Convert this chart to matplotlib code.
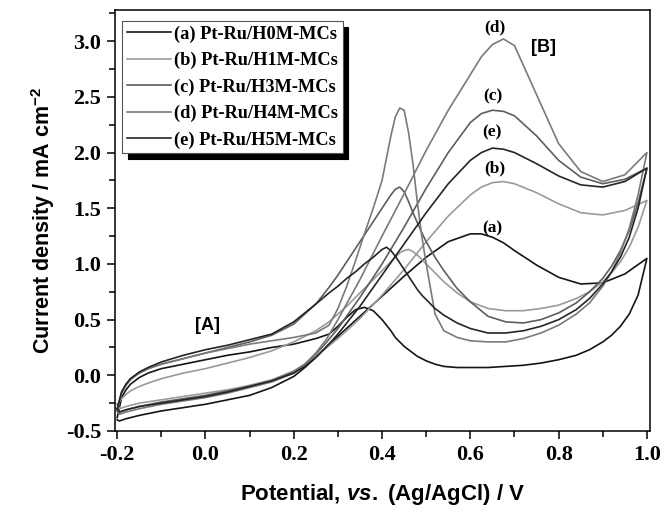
import matplotlib
matplotlib.use("Agg")
import matplotlib.pyplot as plt
from matplotlib.ticker import MultipleLocator, FormatStrFormatter

plt.rcParams['mathtext.fontset'] = 'custom'
plt.rcParams['mathtext.rm'] = 'Liberation Sans:bold'
plt.rcParams['mathtext.it'] = 'Liberation Sans:bold:italic'
plt.rcParams['mathtext.bf'] = 'Liberation Sans:bold'

# potencial do varrimento directo e inverso (V)
pot_fwd = [-0.2, -0.195, -0.18, -0.15, -0.1, -0.05, 0.0, 0.05, 0.1, 0.15, 0.2, 0.225, 0.25,
           0.275, 0.3, 0.35, 0.4, 0.45, 0.5, 0.55, 0.6, 0.625, 0.65, 0.675, 0.7, 0.75, 0.8,
           0.85, 0.9, 0.95, 1.0]
pot_rev = [1.0, 0.98, 0.96, 0.94, 0.92, 0.9, 0.87, 0.84, 0.8, 0.76, 0.72, 0.68, 0.64, 0.6,
           0.57, 0.54, 0.52, 0.5, 0.49, 0.48, 0.47, 0.46, 0.45, 0.44, 0.43, 0.42, 0.41, 0.4,
           0.38, 0.36, 0.34, 0.32, 0.3, 0.28, 0.25, 0.2, 0.15, 0.1, 0.05, 0.0, -0.05, -0.1,
           -0.13, -0.15, -0.17, -0.18, -0.19, -0.2]

# densidade de corrente (mA cm-2)
a_fwd = [-0.40, -0.41, -0.39, -0.36, -0.32, -0.29, -0.26, -0.22, -0.18, -0.11, -0.01, 0.07,
         0.16, 0.26, 0.35, 0.53, 0.71, 0.89, 1.06, 1.2, 1.27, 1.27, 1.24, 1.19, 1.12, 0.99,
         0.88, 0.82, 0.83, 0.91, 1.05]
a_rev = [1.05, 0.72, 0.55, 0.44, 0.36, 0.3, 0.23, 0.18, 0.14, 0.11, 0.09, 0.08, 0.07, 0.07,
         0.07, 0.08, 0.1, 0.13, 0.15, 0.17, 0.2, 0.23, 0.26, 0.3, 0.34, 0.4, 0.45, 0.5, 0.58,
         0.61, 0.59, 0.52, 0.44, 0.37, 0.33, 0.28, 0.25, 0.21, 0.18, 0.14, 0.1, 0.06, 0.02,
         -0.02, -0.08, -0.13, -0.2, -0.38]

b_fwd = [-0.26, -0.30, -0.28, -0.25, -0.22, -0.19, -0.16, -0.13, -0.09, -0.04, 0.04, 0.1,
         0.17, 0.25, 0.33, 0.51, 0.72, 0.95, 1.2, 1.43, 1.62, 1.69, 1.73, 1.74, 1.72, 1.64,
         1.54, 1.46, 1.44, 1.48, 1.57]
b_rev = [1.57, 1.33, 1.15, 1.02, 0.92, 0.84, 0.75, 0.69, 0.63, 0.6, 0.58, 0.58, 0.6, 0.66,
         0.74, 0.84, 0.92, 1.0, 1.04, 1.08, 1.11, 1.13, 1.12, 1.1, 1.06, 1.02, 0.98, 0.94,
         0.86, 0.78, 0.7, 0.62, 0.55, 0.48, 0.4, 0.3, 0.22, 0.16, 0.11, 0.06, 0.02, -0.03,
         -0.07, -0.1, -0.14, -0.17, -0.21, -0.26]

c_fwd = [-0.30, -0.33, -0.31, -0.28, -0.24, -0.21, -0.18, -0.14, -0.1, -0.05, 0.03, 0.1,
         0.19, 0.3, 0.42, 0.7, 1.0, 1.33, 1.68, 2.0, 2.27, 2.35, 2.38, 2.37, 2.33, 2.15, 1.93,
         1.78, 1.72, 1.76, 1.86]
c_rev = [1.86, 1.55, 1.3, 1.12, 0.98, 0.87, 0.75, 0.65, 0.56, 0.5, 0.47, 0.48, 0.53, 0.66,
         0.78, 0.94, 1.06, 1.2, 1.28, 1.37, 1.46, 1.56, 1.65, 1.69, 1.67, 1.62, 1.56, 1.5,
         1.38, 1.26, 1.14, 1.02, 0.9, 0.79, 0.64, 0.46, 0.36, 0.3, 0.25, 0.2, 0.15, 0.1, 0.06,
         0.02, -0.03, -0.08, -0.15, -0.3]

d_fwd = [-0.32, -0.35, -0.33, -0.3, -0.26, -0.23, -0.2, -0.16, -0.11, -0.06, 0.02, 0.1, 0.2,
         0.33, 0.5, 0.86, 1.25, 1.63, 2.02, 2.38, 2.7, 2.86, 2.97, 3.02, 2.96, 2.52, 2.08, 1.83,
         1.74, 1.8, 2.0]
d_rev = [2.0, 1.62, 1.32, 1.1, 0.93, 0.8, 0.65, 0.55, 0.45, 0.38, 0.33, 0.3, 0.3, 0.31, 0.34,
         0.4, 0.55, 1.0, 1.25, 1.55, 1.9, 2.18, 2.38, 2.4, 2.32, 2.15, 1.95, 1.75, 1.5, 1.27,
         1.03, 0.8, 0.6, 0.45, 0.38, 0.34, 0.31, 0.28, 0.24, 0.2, 0.15, 0.1, 0.06, 0.02, -0.04,
         -0.09, -0.16, -0.32]

e_fwd = [-0.30, -0.33, -0.31, -0.28, -0.25, -0.22, -0.19, -0.15, -0.1, -0.05, 0.02, 0.08,
         0.16, 0.26, 0.37, 0.62, 0.9, 1.18, 1.46, 1.72, 1.93, 2.0, 2.04, 2.03, 2.0, 1.9, 1.79,
         1.71, 1.69, 1.74, 1.86]
e_rev = [1.86, 1.5, 1.24, 1.06, 0.93, 0.82, 0.69, 0.59, 0.5, 0.44, 0.4, 0.38, 0.38, 0.42,
         0.47, 0.54, 0.6, 0.68, 0.72, 0.77, 0.83, 0.89, 0.95, 1.01, 1.07, 1.12, 1.15, 1.13,
         1.06, 1.0, 0.93, 0.87, 0.8, 0.74, 0.64, 0.48, 0.37, 0.32, 0.27, 0.23, 0.18, 0.12,
         0.07, 0.03, -0.03, -0.08, -0.15, -0.3]

nomes = ["(a) Pt-Ru/H0M-MCs", "(b) Pt-Ru/H1M-MCs", "(c) Pt-Ru/H3M-MCs",
         "(d) Pt-Ru/H4M-MCs", "(e) Pt-Ru/H5M-MCs"]
cores = ["#151515", "#9a9a9a", "#5e5e5e", "#7a7a7a", "#252525"]
curvas = [(a_fwd, a_rev), (b_fwd, b_rev), (c_fwd, c_rev), (d_fwd, d_rev), (e_fwd, e_rev)]

fig = plt.figure(figsize=(6.71, 5.12), dpi=100)
ax = fig.add_axes([115 / 671, 81 / 512, 535 / 671, 421 / 512])

for (fwd, rev), nome, cor in zip(curvas, nomes, cores):
    ax.plot(pot_fwd + pot_rev, fwd + rev, color=cor, lw=1.2, label=nome)

ax.set_xlim(-0.205, 1.007)
ax.set_ylim(-0.5, 3.28)
ax.xaxis.set_major_locator(MultipleLocator(0.2))
ax.xaxis.set_minor_locator(MultipleLocator(0.1))
ax.yaxis.set_major_locator(MultipleLocator(0.5))
ax.yaxis.set_minor_locator(MultipleLocator(0.25))
ax.tick_params(which='both', direction='out', top=False, right=False, width=1.1)
ax.tick_params(which='major', length=6, pad=4)
ax.tick_params(which='minor', length=4)
for s in ax.spines.values():
    s.set_linewidth(1.1)

ax.xaxis.set_major_formatter(FormatStrFormatter('%.1f'))
ax.yaxis.set_major_formatter(FormatStrFormatter('%.1f'))
for lab in ax.get_xticklabels() + ax.get_yticklabels():
    lab.set_fontfamily('Liberation Serif')
    lab.set_fontweight('bold')
    lab.set_fontsize(16)

ax.set_xlabel(r"Potential, $\mathit{vs.}$ (Ag/AgCl) / V", fontfamily='Liberation Sans',
              fontweight='bold', fontsize=16, labelpad=12)
ax.set_ylabel(r"Current density / mA cm$^{-2}$", fontfamily='Liberation Sans',
              fontweight='bold', fontsize=15.5, labelpad=6)

# rotulos das curvas
serif_b = dict(fontfamily='Liberation Serif', fontweight='bold', fontsize=12.5, ha='center', va='center')
ax.text(0.656, 3.12, "(d)", **serif_b)
ax.text(0.65, 2.50, "(c)", **serif_b)
ax.text(0.65, 2.18, "(e)", **serif_b)
ax.text(0.656, 1.86, "(b)", **serif_b)
ax.text(0.65, 1.32, "(a)", **serif_b)
ax.text(0.765, 2.94, "[B]", fontfamily='Liberation Sans', fontweight='bold', fontsize=13,
        ha='center', va='center')
ax.text(0.005, 0.45, "[A]", fontfamily='Liberation Sans', fontweight='bold', fontsize=13,
        ha='center', va='center')

leg = ax.legend(loc='upper left', bbox_to_anchor=(122 / 671, 1 - 21 / 512),
                bbox_transform=fig.transFigure, borderaxespad=0, fancybox=False,
                shadow={'color': 'black', 'alpha': 1, 'ox': 4, 'oy': -4},
                prop={'family': 'Liberation Serif', 'weight': 'bold', 'size': 13.2},
                handlelength=2.4, handletextpad=0.2, labelspacing=0.5, borderpad=0.25,
                framealpha=1, edgecolor='#555555')
leg.get_frame().set_linewidth(0.8)

fig.savefig("out.png", dpi=100)
